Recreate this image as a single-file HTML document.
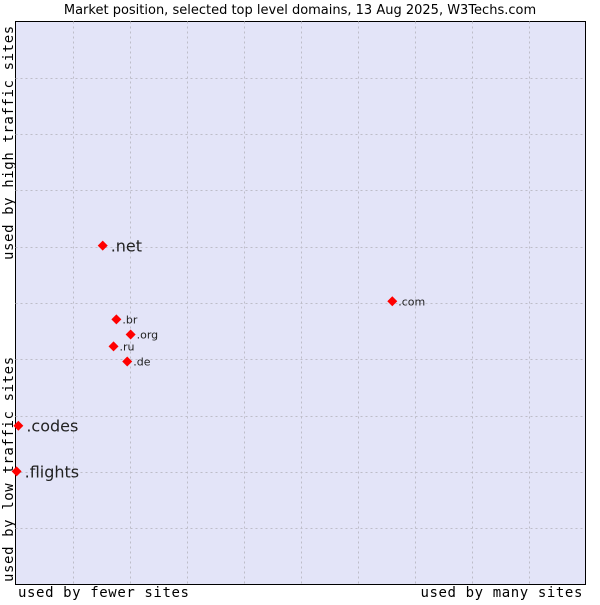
<!DOCTYPE html>
<html><head><meta charset="utf-8"><style>
body{margin:0;background:#fff;}
svg text{font-family:"DejaVu Sans","Liberation Sans",sans-serif;}
.mono{font-family:"DejaVu Sans Mono","Liberation Mono",monospace !important;font-size:14px;letter-spacing:0.6px;fill:#000;}
</style></head><body>
<svg id="chart" width="600" height="600" xmlns="http://www.w3.org/2000/svg">
<text x="300" y="14" text-anchor="middle" font-size="13" fill="#000">Market position, selected top level domains, 13 Aug 2025, W3Techs.com</text>
<rect x="15.5" y="21.5" width="570" height="563" fill="#e3e4f8" stroke="#000" stroke-width="1"/>
<g id="grid"></g>
<g id="points"></g>
<text class="mono" x="18" y="597">used by fewer sites</text>
<text class="mono" x="583" y="597" text-anchor="end">used by many sites</text>
<text class="mono" transform="translate(13,582) rotate(-90)">used by low traffic sites</text>
<text class="mono" transform="translate(13,260) rotate(-90)">used by high traffic sites</text>
</svg>
<script>
const domains=[".com",".net",".br",".org",".ru",".de",".codes",".flights"];
const xValues=[66.1,15.3,17.7,20.2,17.2,19.6,0.5,0.2];
const yValues=[50.3,60.2,47.1,44.4,42.3,39.6,28.2,20.1];
const bigLabel=[false,true,false,false,false,false,true,true];
const ns="http://www.w3.org/2000/svg";
const X0=15.5,X1=585.5,Y0=584.5,Y1=21.5;
const xs=v=>X0+(X1-X0)*v/100, ys=v=>Y0-(Y0-Y1)*v/100;
const grid=document.getElementById('grid');
for(let i=1;i<10;i++){
  const gx=document.createElementNS(ns,'line');
  
  
  const x=Math.round(xs(i*10))+0.5;
  gx.setAttribute('x1',x);gx.setAttribute('x2',x);gx.setAttribute('y1',Y1);gx.setAttribute('y2',Y0);
  gx.setAttribute('stroke','#bdbdc8');gx.setAttribute('stroke-dasharray','2,3');
  grid.appendChild(gx);
  const gy=document.createElementNS(ns,'line');
  
  
  const y=Math.round(ys(i*10))+0.5;
  gy.setAttribute('y1',y);gy.setAttribute('y2',y);gy.setAttribute('x1',X0);gy.setAttribute('x2',X1);
  gy.setAttribute('stroke','#bdbdc8');gy.setAttribute('stroke-dasharray','2,3');
  grid.appendChild(gy);
}
const pts=document.getElementById('points');
domains.forEach((d,i)=>{
  const x=xs(xValues[i]),y=ys(yValues[i]);
  const m=document.createElementNS(ns,'path');
  
  
  m.setAttribute('d',`M${x} ${y-5}L${x+5} ${y}L${x} ${y+5}L${x-5} ${y}Z`);
  m.setAttribute('fill','#ff0000');
  pts.appendChild(m);
  const t=document.createElementNS(ns,'text');
  
  
  t.setAttribute('x',x+(bigLabel[i]?8:6));
  t.setAttribute('y',y+(bigLabel[i]?6:4));
  t.setAttribute('font-size',bigLabel[i]?16:11);
  t.setAttribute('fill','#222');
  t.textContent=d;
  pts.appendChild(t);
});
</script>
</body></html>
